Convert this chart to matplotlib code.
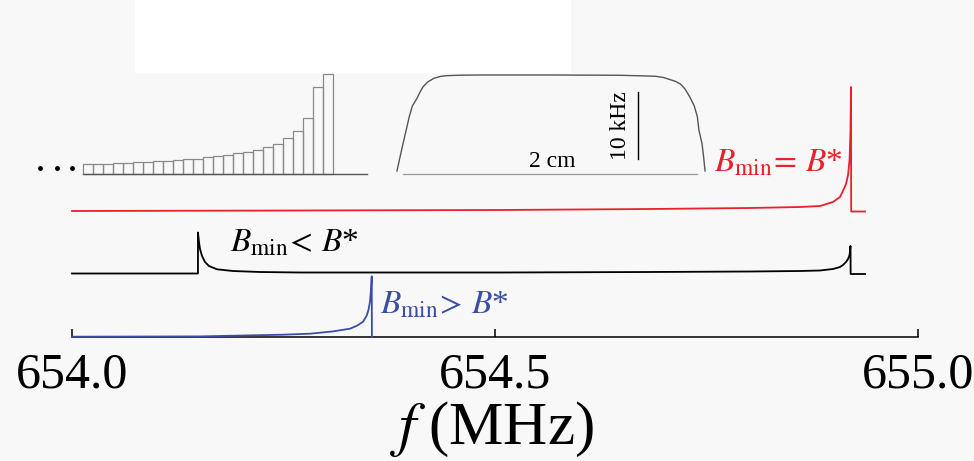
import matplotlib.pyplot as plt
from matplotlib.patches import Rectangle

plt.rcParams['font.family'] = ['Liberation Serif', 'DejaVu Serif']
plt.rcParams['mathtext.fontset'] = 'stix'

# Espectros (frecuencia en MHz, amplitud en unidades arbitrarias sobre la linea base)
f_red = [654.0000, 654.2695, 654.5059, 654.6832, 654.8014, 654.8605, 654.8842, 654.8995,
         654.9078, 654.9113, 654.9149, 654.9173, 654.9191, 654.9202, 654.9208, 654.9210, 654.9374]
a_red = [0, 0.5, 1, 2, 3, 4, 5, 9, 14, 20, 27, 36, 51, 81, 124, -0.5, -0.5]

f_black = [654.0000, 654.1489, 654.1489, 654.1501, 654.1513, 654.1537, 654.1572, 654.1619,
           654.1714, 654.1903, 654.2222, 654.2695, 654.5059, 654.6832, 654.8014, 654.8605,
           654.8842, 654.8995, 654.9078, 654.9113, 654.9149, 654.9173, 654.9191, 654.9202,
           654.9204, 654.9374]
a_black = [0, 0, 41, 31.5, 24.5, 17.5, 11.5, 7.5, 4.2, 2.5, 1.5, 1, 1, 1.5, 2, 2.5,
           3, 4.5, 6.5, 8.5, 11.5, 14.5, 18.5, 27.5, -0.5, -0.5]

f_blue = [654.0000, 654.1513, 654.2494, 654.2813, 654.3085, 654.3286, 654.3369, 654.3440,
          654.3483, 654.3505, 654.3522, 654.3534, 654.3543, 654.3545]
a_blue = [0, 0.3, 2, 3, 5.3, 8, 11, 15, 21, 27, 35, 47, 60.3, 0]

ticks = [654.0, 654.5, 655.0]
tick_labels = ['654.0', '654.5', '655.0']

# Histograma del recuadro izquierdo
hist_vals = [10, 10, 10, 11.3, 11.3, 12, 12.3, 13, 13.3, 14, 14.7, 15.3, 16.7, 17.7,
             19, 20.7, 22.3, 24, 26.7, 29.7, 35.7, 43.3, 56.3, 87.3, 100]

# Perfil del recuadro central (x en cm, y en kHz)
prof_x = [-1.00, -0.98, -0.96, -0.94, -0.92, -0.90, -0.87, -0.85, -0.83, -0.80, -0.76,
          -0.72, -0.68, -0.59, -0.46, 0.00, 0.45, 0.58, 0.68, 0.73, 0.77, 0.81, 0.84,
          0.87, 0.90, 0.93, 0.95, 0.96, 0.98, 0.99, 1.00]
prof_y = [0.37, 2.44, 4.47, 6.43, 8.40, 9.99, 11.12, 12.06, 12.84, 13.54, 14.08, 14.35,
          14.47, 14.54, 14.57, 14.57, 14.53, 14.45, 14.38, 14.20, 13.91, 13.61, 13.24,
          12.50, 11.36, 9.99, 8.40, 6.43, 4.47, 2.59, 0.37]
bar_khz = 10

RED = '#e8212b'
BLUE = '#3b4ea6'
bg = '#f8f8f8'

fig = plt.figure(figsize=(9.74, 4.61), dpi=100, facecolor=bg)
fig.add_artist(Rectangle((135 / 974, 1 - 72 / 461), 435 / 974, 72 / 461,
                         transform=fig.transFigure, color='white', zorder=0))

ax = fig.add_axes([0, 0, 1, 1])
ax.set_facecolor('none')
ax.set_xlim(654 - 72 / 846, 654 + 902 / 846)
ax.set_ylim(0, 461)

base_red, base_black, base_blue = 250, 187.5, 124.3
ax.plot(f_red, [a + base_red for a in a_red], color=RED, lw=1.3)
ax.plot(f_black, [a + base_black for a in a_black], color='black', lw=1.3)
ax.plot(f_blue, [a + base_blue for a in a_blue], color=BLUE, lw=1.3, zorder=3)

for s in ['top', 'right', 'left']:
    ax.spines[s].set_visible(False)
ax.spines['bottom'].set_position(('data', base_blue))
ax.spines['bottom'].set_bounds(654.0, 655.0)
ax.spines['bottom'].set_linewidth(1.1)
ax.set_yticks([])
ax.set_xticks(ticks)
ax.set_xticklabels(tick_labels)
ax.tick_params(axis='x', direction='in', length=6, width=1.1, labelsize=36, pad=11)
ax.set_xlabel(r'$f\;$(MHz)', fontsize=44)
ax.xaxis.set_label_coords(0.505, 0.133)

ax.text(654.7589, 290, r'$B_{\rm min}\!=\, B$*', color=RED, fontsize=24, va='baseline')
ax.text(654.1868, 209, r'$B_{\rm min}\!<\, B$*', color='black', fontsize=24, va='baseline')
ax.text(654.3641, 148, r'$B_{\rm min}\!>\, B$*', color=BLUE, fontsize=24, va='baseline')

# Recuadro: histograma
axh = fig.add_axes([30 / 974, (461 - 180) / 461, 340 / 974, 110 / 461])
axh.set_xlim(-5.27, 28.73)
axh.set_ylim(-6, 104)
axh.axis('off')
axh.bar(range(len(hist_vals)), hist_vals, width=1, align='edge',
        facecolor='none', edgecolor='#8a8a8a', lw=0.9)
axh.plot([0, 28.4], [0, 0], color='#555555', lw=1.0)
axh.plot([-4.27, -2.6, -1.04], [5.6, 5.6, 5.6], 'k.', ms=5)

# Recuadro: perfil
axp = fig.add_axes([380 / 974, (461 - 180) / 461, 340 / 974, 110 / 461])
axp.set_xlim(-1.110, 1.097)
axp.set_ylim(-0.96, 15.31)
axp.axis('off')
axp.plot(prof_x, prof_y, color='#555555', lw=1.0)
axp.plot([-0.96, 0.95], [-0.1, -0.1], color='#9a9a9a', lw=0.9)
axp.plot([0.567, 0.567], [2.1, 2.1 + bar_khz], color='black', lw=1.0)
axp.text(0.01, 1.85, '2 cm', fontsize=17, ha='center', va='center')
axp.text(0.45, 7.1, '10 kHz', fontsize=17, rotation=90, ha='center', va='center')

fig.savefig('out.png', dpi=100, facecolor=bg)
